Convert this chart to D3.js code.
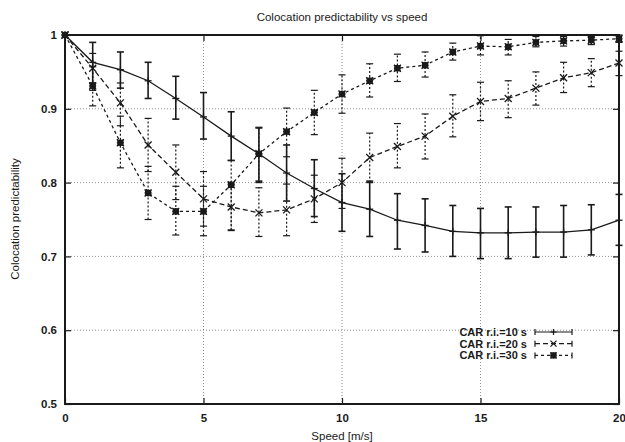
<!DOCTYPE html>
<html>
<head>
<meta charset="utf-8">
<script src="https://cdn.jsdelivr.net/npm/d3@7"></script>
<style>
  body { margin: 0; background: #fff; }
  svg { display: block; font-family: "Liberation Sans", Arial, sans-serif; }
</style>
</head>
<body>
<svg width="625" height="442"></svg>
<script>
// values
var speed = [0, 1, 2, 3, 4, 5, 6, 7, 8, 9, 10, 11, 12, 13, 14, 15, 16, 17, 18, 19, 20];

var ri10 = [1.000, 0.963, 0.953, 0.938, 0.914, 0.889, 0.863, 0.839, 0.813, 0.792, 0.773, 0.764, 0.749, 0.742, 0.734, 0.732, 0.732, 0.733, 0.733, 0.736, 0.749];
var ri10Lo = [1.000, 0.935, 0.928, 0.914, 0.886, 0.859, 0.830, 0.802, 0.775, 0.754, 0.734, 0.727, 0.710, 0.706, 0.700, 0.697, 0.697, 0.699, 0.699, 0.702, 0.715];
var ri10Hi = [1.000, 0.990, 0.977, 0.963, 0.944, 0.922, 0.896, 0.874, 0.851, 0.831, 0.812, 0.802, 0.785, 0.778, 0.769, 0.765, 0.767, 0.767, 0.769, 0.770, 0.784];

var ri20 = [1.000, 0.955, 0.908, 0.851, 0.814, 0.778, 0.767, 0.759, 0.763, 0.778, 0.800, 0.834, 0.849, 0.863, 0.890, 0.910, 0.914, 0.928, 0.942, 0.949, 0.962];
var ri20Lo = [1.000, 0.925, 0.877, 0.815, 0.777, 0.741, 0.736, 0.727, 0.728, 0.746, 0.765, 0.800, 0.820, 0.832, 0.862, 0.884, 0.888, 0.905, 0.922, 0.930, 0.945];
var ri20Hi = [1.000, 0.975, 0.935, 0.887, 0.851, 0.815, 0.798, 0.793, 0.798, 0.810, 0.833, 0.867, 0.880, 0.893, 0.919, 0.936, 0.938, 0.950, 0.963, 0.968, 0.978];

var ri30 = [1.000, 0.931, 0.854, 0.786, 0.761, 0.761, 0.797, 0.839, 0.869, 0.895, 0.920, 0.938, 0.955, 0.959, 0.977, 0.985, 0.984, 0.990, 0.992, 0.993, 0.995];
var ri30Lo = [1.000, 0.904, 0.820, 0.750, 0.729, 0.728, 0.735, 0.800, 0.835, 0.865, 0.894, 0.916, 0.937, 0.943, 0.966, 0.973, 0.973, 0.984, 0.985, 0.987, 0.990];
var ri30Hi = [1.000, 0.957, 0.890, 0.822, 0.795, 0.795, 0.830, 0.875, 0.901, 0.925, 0.946, 0.961, 0.974, 0.977, 0.989, 0.999, 0.994, 0.998, 0.998, 0.998, 1.000];

var seriesNames = ['CAR r.i.=10 s', 'CAR r.i.=20 s', 'CAR r.i.=30 s'];
var xTicks = [0, 5, 10, 15, 20];
var yTicks = [0.5, 0.6, 0.7, 0.8, 0.9, 1];

var plotL = 65, plotR = 619, plotT = 35, plotB = 404;
var ink = '#1a1a1a';

var series = [
  {name: seriesNames[0], y: ri10, lo: ri10Lo, hi: ri10Hi, dash: null, marker: 'plus', width: 1.3},
  {name: seriesNames[1], y: ri20, lo: ri20Lo, hi: ri20Hi, dash: '5,3', marker: 'cross', width: 1.3},
  {name: seriesNames[2], y: ri30, lo: ri30Lo, hi: ri30Hi, dash: '3,3', marker: 'star', width: 1.3}
];

var x = d3.scaleLinear().domain([0, 20]).range([plotL, plotR]);
var y = d3.scaleLinear().domain([0.5, 1]).range([plotB, plotT]);

var svg = d3.select('svg');

// grid
var grid = svg.append('g').attr('stroke', '#777').attr('stroke-width', 0.8).attr('stroke-dasharray', '1,2');
grid.selectAll('.gx').data(xTicks.slice(1, -1)).enter().append('line')
  .attr('x1', function(d){ return x(d); }).attr('x2', function(d){ return x(d); })
  .attr('y1', plotT).attr('y2', plotB);
grid.selectAll('.gy').data(yTicks.slice(1, -1)).enter().append('line')
  .attr('y1', function(d){ return y(d); }).attr('y2', function(d){ return y(d); })
  .attr('x1', plotL).attr('x2', plotR);

// axes (ticks inward, mirrored)
var xAxis = svg.append('g').attr('transform', 'translate(0,' + plotB + ')')
  .call(d3.axisBottom(x).tickValues(xTicks).tickSize(-6).tickPadding(10).tickFormat(d3.format('d')));
var xAxisTop = svg.append('g').attr('transform', 'translate(0,' + plotT + ')')
  .call(d3.axisTop(x).tickValues(xTicks).tickSize(-6).tickFormat(''));
var yAxis = svg.append('g').attr('transform', 'translate(' + plotL + ',0)')
  .call(d3.axisLeft(y).tickValues(yTicks).tickSize(-6).tickPadding(8).tickFormat(function(d){ return d === 1 ? '1' : d3.format('.1f')(d); }));
var yAxisRight = svg.append('g').attr('transform', 'translate(' + plotR + ',0)')
  .call(d3.axisRight(y).tickValues(yTicks).tickSize(-6).tickFormat(''));

[xAxis, xAxisTop, yAxis, yAxisRight].forEach(function(a){
  a.select('.domain').remove();
  a.selectAll('.tick line').attr('stroke', ink).attr('stroke-width', 1.2);
  a.selectAll('text').attr('fill', ink).attr('font-size', 11.5).attr('font-weight', 'bold')
    .attr('font-family', '"Liberation Sans", Arial, sans-serif');
});

svg.append('rect')
  .attr('x', plotL).attr('y', plotT).attr('width', plotR - plotL).attr('height', plotB - plotT)
  .attr('fill', 'none').attr('stroke', ink).attr('stroke-width', 2);

// markers
function marker(g, type, cx, cy, s){
  if (type === 'plus' || type === 'star') {
    g.append('line').attr('x1', cx - s).attr('x2', cx + s).attr('y1', cy).attr('y2', cy);
    g.append('line').attr('x1', cx).attr('x2', cx).attr('y1', cy - s).attr('y2', cy + s);
  }
  if (type === 'cross' || type === 'star') {
    g.append('line').attr('x1', cx - s).attr('x2', cx + s).attr('y1', cy - s).attr('y2', cy + s);
    g.append('line').attr('x1', cx - s).attr('x2', cx + s).attr('y1', cy + s).attr('y2', cy - s);
  }
  if (type === 'star') {
    g.append('rect').attr('x', cx - 2.5).attr('y', cy - 2.5).attr('width', 5).attr('height', 5).attr('fill', ink);
  }
}

var line = d3.line().x(function(d){ return x(d[0]); }).y(function(d){ return y(d[1]); });

series.forEach(function(s){
  var g = svg.append('g').attr('stroke', ink).attr('fill', 'none');
  var pts = speed.map(function(v, i){ return [v, s.y[i]]; });

  // error bars
  var eb = g.append('g').attr('stroke-width', s.dash ? 1.2 : 1.6);
  speed.forEach(function(v, i){
    if (s.hi[i] === s.lo[i]) return;
    eb.append('line').attr('x1', x(v)).attr('x2', x(v)).attr('y1', y(s.lo[i])).attr('y2', y(s.hi[i]))
      .attr('stroke-dasharray', s.dash ? '2,2' : null);
    eb.append('line').attr('x1', x(v) - 3.5).attr('x2', x(v) + 3.5).attr('y1', y(s.lo[i])).attr('y2', y(s.lo[i]));
    eb.append('line').attr('x1', x(v) - 3.5).attr('x2', x(v) + 3.5).attr('y1', y(s.hi[i])).attr('y2', y(s.hi[i]));
  });

  g.append('path').datum(pts).attr('d', line).attr('stroke-width', s.width)
    .attr('stroke-dasharray', s.dash);

  var mg = g.append('g').attr('stroke-width', 1.3);
  pts.forEach(function(p){ marker(mg, s.marker, x(p[0]), y(p[1]), 3.5); });
});

// legend
var legend = svg.append('g');
series.forEach(function(s, i){
  var ly = 332 + i * 11.7;
  legend.append('text').attr('x', 527).attr('y', ly).attr('dy', '0.35em')
    .attr('text-anchor', 'end').attr('font-size', 11).attr('font-weight', 'bold').attr('fill', ink)
    .text(s.name);
  var lg = legend.append('g').attr('stroke', ink).attr('fill', 'none');
  lg.append('line').attr('x1', 535).attr('x2', 572).attr('y1', ly).attr('y2', ly)
    .attr('stroke-width', 1.2).attr('stroke-dasharray', s.dash);
  lg.append('line').attr('x1', 535).attr('x2', 535).attr('y1', ly - 3).attr('y2', ly + 3).attr('stroke-width', 1.2);
  lg.append('line').attr('x1', 572).attr('x2', 572).attr('y1', ly - 3).attr('y2', ly + 3).attr('stroke-width', 1.2);
  var mg = lg.append('g').attr('stroke-width', 1.2);
  marker(mg, s.marker, 553.5, ly, 3);
});

// titles
svg.append('text').attr('x', 342).attr('y', 17).attr('dy', '0.35em').attr('text-anchor', 'middle')
  .attr('font-size', 11.5).attr('fill', ink).text('Colocation predictability vs speed');
svg.append('text').attr('x', 342).attr('y', 436).attr('dy', '0.35em').attr('text-anchor', 'middle')
  .attr('font-size', 11.5).attr('fill', ink).text('Speed [m/s]');
svg.append('text').attr('transform', 'translate(15,219) rotate(-90)').attr('dy', '0.35em')
  .attr('text-anchor', 'middle').attr('font-size', 11.5).attr('fill', ink).text('Colocation predictability');
</script>
</body>
</html>
